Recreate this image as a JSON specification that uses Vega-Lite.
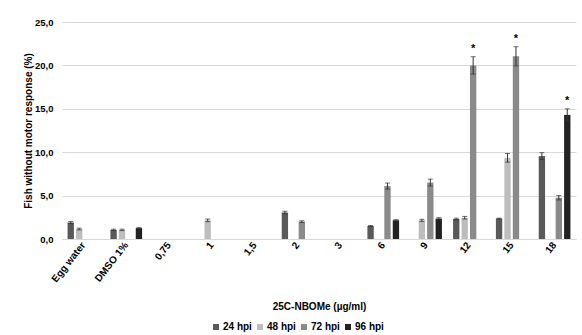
{
  "$schema": "https://vega.github.io/schema/vega-lite/v6.json",
  "width": 514,
  "height": 217,
  "autosize": {"type": "none"},
  "padding": {"left": 62, "top": 22, "right": 6, "bottom": 96},
  "background": "white",
  "config": {
    "font": "Liberation Sans",
    "view": {"stroke": null}
  },
  "data": {
    "values": [
      {"cat": "Egg water", "hpi": "24 hpi", "v": 1.9, "e": 0.12, "sig": ""},
      {"cat": "Egg water", "hpi": "48 hpi", "v": 1.15, "e": 0.1, "sig": ""},
      {"cat": "DMSO 1%", "hpi": "24 hpi", "v": 1.05, "e": 0.08, "sig": ""},
      {"cat": "DMSO 1%", "hpi": "48 hpi", "v": 1.05, "e": 0.08, "sig": ""},
      {"cat": "DMSO 1%", "hpi": "96 hpi", "v": 1.25, "e": 0.06, "sig": ""},
      {"cat": "1", "hpi": "48 hpi", "v": 2.15, "e": 0.15, "sig": ""},
      {"cat": "2", "hpi": "24 hpi", "v": 3.05, "e": 0.15, "sig": ""},
      {"cat": "2", "hpi": "72 hpi", "v": 2.0, "e": 0.1, "sig": ""},
      {"cat": "6", "hpi": "24 hpi", "v": 1.5, "e": 0.05, "sig": ""},
      {"cat": "6", "hpi": "72 hpi", "v": 6.1, "e": 0.35, "sig": ""},
      {"cat": "6", "hpi": "96 hpi", "v": 2.15, "e": 0.08, "sig": ""},
      {"cat": "9", "hpi": "48 hpi", "v": 2.15, "e": 0.12, "sig": ""},
      {"cat": "9", "hpi": "72 hpi", "v": 6.5, "e": 0.4, "sig": ""},
      {"cat": "9", "hpi": "96 hpi", "v": 2.35, "e": 0.1, "sig": ""},
      {"cat": "12", "hpi": "24 hpi", "v": 2.3, "e": 0.1, "sig": ""},
      {"cat": "12", "hpi": "48 hpi", "v": 2.45, "e": 0.15, "sig": ""},
      {"cat": "12", "hpi": "72 hpi", "v": 20.0, "e": 1.0, "sig": "*"},
      {"cat": "15", "hpi": "24 hpi", "v": 2.35, "e": 0.05, "sig": ""},
      {"cat": "15", "hpi": "48 hpi", "v": 9.35, "e": 0.5, "sig": ""},
      {"cat": "15", "hpi": "72 hpi", "v": 21.05, "e": 1.1, "sig": "*"},
      {"cat": "18", "hpi": "24 hpi", "v": 9.55, "e": 0.4, "sig": ""},
      {"cat": "18", "hpi": "72 hpi", "v": 4.75, "e": 0.25, "sig": ""},
      {"cat": "18", "hpi": "96 hpi", "v": 14.3, "e": 0.7, "sig": "*"}
    ]
  },
  "transform": [
    {"calculate": "datum.v - datum.e", "as": "lo"},
    {"calculate": "datum.v + datum.e", "as": "hi"}
  ],
  "encoding": {
    "x": {
      "field": "cat",
      "type": "nominal",
      "scale": {
        "domain": ["Egg water", "DMSO 1%", "0,75", "1", "1,5", "2", "3", "6", "9", "12", "15", "18"],
        "paddingInner": 0.26,
        "paddingOuter": 0.13
      },
      "axis": {
        "title": "25C-NBOMe (µg/ml)",
        "titleFontWeight": "bold",
        "titleFontSize": 10,
        "titleColor": "#000000",
        "titlePadding": 18,
        "labelAngle": -52,
        "labelFontWeight": "bold",
        "labelFontSize": 10,
        "labelColor": "#000000",
        "labelPadding": 4,
        "ticks": false,
        "domainColor": "#d9d9d9",
        "domainWidth": 1
      }
    },
    "xOffset": {
      "field": "hpi",
      "type": "nominal",
      "scale": {"domain": ["24 hpi", "48 hpi", "72 hpi", "96 hpi"], "paddingInner": 0.25}
    },
    "y": {
      "field": "v",
      "type": "quantitative",
      "scale": {"domain": [0, 25], "nice": false, "padding": 0, "zero": true},
      "axis": {
        "title": "Fish without  motor response (%)",
        "titleFontWeight": "bold",
        "titleFontSize": 10,
        "titleColor": "#000000",
        "titlePadding": 1,
        "values": [0, 5, 10, 15, 20, 25],
        "labelExpr": "replace(format(datum.value, '.1f'), '.', ',')",
        "labelFontWeight": "bold",
        "labelFontSize": 9.5,
        "labelColor": "#000000",
        "labelPadding": 9,
        "ticks": false,
        "domain": false,
        "gridColor": "#d9d9d9",
        "gridWidth": 1
      }
    }
  },
  "layer": [
    {
      "mark": {"type": "bar"},
      "encoding": {
        "color": {
          "field": "hpi",
          "type": "nominal",
          "scale": {
            "domain": ["24 hpi", "48 hpi", "72 hpi", "96 hpi"],
            "range": ["#595959", "#bdbdbd", "#8a8a8a", "#222222"]
          },
          "legend": {
            "title": null,
            "orient": "none",
            "direction": "horizontal",
            "legendX": 149,
            "legendY": 300,
            "symbolType": "square",
            "symbolSize": 36,
            "symbolStrokeWidth": 0,
            "labelFontWeight": "bold",
            "labelFontSize": 10,
            "labelColor": "#000000",
            "labelOffset": 2,
            "columnPadding": 3
          }
        }
      }
    },
    {
      "mark": {"type": "rule", "color": "#333333", "strokeWidth": 1},
      "encoding": {
        "y": {"field": "lo", "type": "quantitative"},
        "y2": {"field": "hi"}
      }
    },
    {
      "mark": {"type": "tick", "color": "#333333", "thickness": 1, "size": 5},
      "encoding": {
        "y": {"field": "hi", "type": "quantitative"}
      }
    },
    {
      "mark": {"type": "tick", "color": "#333333", "thickness": 1, "size": 5},
      "encoding": {
        "y": {"field": "lo", "type": "quantitative"}
      }
    },
    {
      "mark": {"type": "text", "dy": -3, "fontSize": 11, "fontWeight": "bold", "color": "#000000", "baseline": "bottom"},
      "encoding": {
        "y": {"field": "hi", "type": "quantitative"},
        "text": {"field": "sig"}
      }
    }
  ]
}
